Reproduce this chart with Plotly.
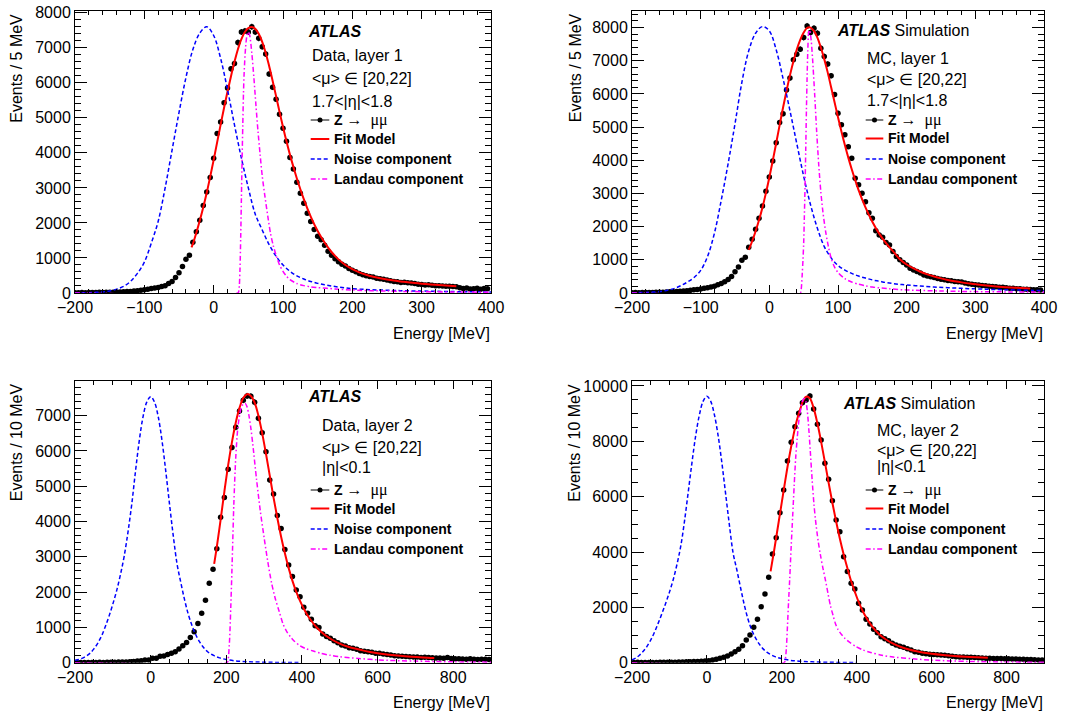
import numpy as np
import plotly.graph_objects as go

W, H = 1067, 718
FONT = "Liberation Sans, Arial, Helvetica, sans-serif"
SERIF = "Liberation Serif, Times New Roman, serif"

# ---------------- binning ----------------
L1_START, L1_WIDTH, L1_N = -200, 5, 120     # layer 1: 5 MeV bins
L2_START, L2_WIDTH, L2_N = -195, 10, 110    # layer 2: 10 MeV bins

# ---------------- Panel 1 : Data, layer 1 ----------------
p1_data = [10, 8, 12, 10, 14, 12, 16, 18, 15, 20,
           22, 20, 25, 28, 34, 40, 46, 58, 66, 80,
           92, 108, 125, 140, 160, 185, 205, 270, 330, 440,
           580, 760, 960, 1080, 1450, 1750, 2080, 2500, 2880, 3300,
           3850, 4550, 4880, 5430, 5850, 6400, 6550, 7150, 7450, 7480,
           7450, 7600, 7450, 7270, 7030, 6820, 6250, 5870, 5530, 5100,
           4700, 4330, 3870, 3540, 3160, 2850, 2560, 2280, 2040, 1810,
           1620, 1520, 1360, 1190, 1080, 980, 890, 820, 770, 700,
           650, 610, 560, 520, 490, 470, 460, 420, 410, 390,
           370, 350, 330, 320, 300, 310, 290, 285, 270, 250,
           240, 230, 235, 220, 210, 205, 200, 195, 190, 185,
           180, 150, 130, 140, 115, 120, 135, 110, 125, 120]
p1_fit_x = [-32, -30, -25, -20, -15, -10, -5, 0, 5, 10, 15, 20, 25, 30, 35, 40, 45, 50, 55, 60,
            65, 70, 75, 80, 85, 90, 95, 100, 105, 110, 115, 120, 130, 140, 150, 160, 170, 180, 190, 200,
            210, 220, 230, 240, 250, 260, 270, 280, 290, 300, 310, 320, 330, 340, 350]
p1_fit_y = [1300, 1400, 1720, 2070, 2450, 2860, 3320, 3800, 4300, 4800, 5290, 5750, 6190, 6600, 6960, 7250, 7450, 7560, 7590, 7540,
            7400, 7170, 6860, 6480, 6060, 5620, 5170, 4740, 4330, 3950, 3600, 3270, 2680, 2180, 1770, 1440, 1170, 960, 800, 680,
            590, 520, 465, 420, 385, 355, 330, 305, 285, 265, 248, 232, 218, 205, 195]
noise_x = [-200, -190, -180, -170, -160, -150, -140, -130, -120, -110,
           -100, -90, -80, -70, -60, -50, -40, -30, -20, -10,
           0, 10, 20, 30, 40, 50, 60, 70, 80, 90,
           100, 110, 120, 130, 140, 150, 160, 170, 180, 190,
           200, 220, 240, 260, 280, 300, 320, 340, 360, 380, 400]
p1_noise_y = [3, 6, 10, 18, 32, 60, 110, 190, 330, 560,
              880, 1420, 2050, 3000, 4080, 5150, 6150, 6950, 7420, 7600,
              7350, 6700, 5800, 4800, 3850, 3000, 2250, 1800, 1380, 1050,
              800, 620, 490, 400, 330, 275, 235, 200, 170, 145,
              125, 100, 85, 72, 62, 55, 48, 42, 37, 33, 30]
p1_landau_x = [-200, 35, 36, 37, 38, 39, 40, 41, 42, 43, 44, 46, 48, 50, 52, 55, 58, 61, 64, 67, 70,
               74, 78, 82, 86, 90, 95, 100, 105, 110, 120, 130, 140, 150, 175, 200, 250, 300, 350, 400]
p1_landau_y = [0, 0, 30, 200, 700, 1600, 2700, 3800, 4800, 5700, 6300, 7000, 7350, 7450, 7350, 6850, 6150, 5350, 4600, 3950, 3350,
               2750, 2200, 1700, 1350, 1080, 800, 620, 480, 380, 270, 210, 175, 155, 115, 85, 55, 38, 28, 22]

# ---------------- Panel 2 : MC, layer 1 ----------------
p2_data = [10, 12, 8, 15, 12, 18, 16, 20, 25, 22,
           30, 35, 40, 45, 55, 62, 70, 80, 95, 105,
           120, 140, 160, 180, 205, 250, 290, 340, 410, 500,
           640, 780, 990, 1080, 1380, 1620, 1920, 2250, 2620, 3070,
           3500, 3980, 4530, 5140, 5400, 6120, 6480, 7030, 7200, 7350,
           7700, 8050, 7850, 7980, 7830, 7380, 7130, 6900, 6550, 5980,
           5420, 5070, 4770, 4410, 4060, 3460, 3260, 3010, 2750, 2420,
           2250, 1880, 1750, 1680, 1520, 1450, 1250, 1100, 1000, 920,
           845, 745, 695, 645, 600, 545, 510, 490, 470, 440,
           415, 400, 380, 370, 350, 340, 330, 300, 280, 260,
           245, 240, 225, 215, 200, 195, 185, 175, 170, 160,
           145, 140, 130, 125, 115, 112, 105, 100, 95, 92]
p2_fit_x = [-30, -25, -20, -15, -10, -5, 0, 5, 10, 15, 20, 25, 30, 35, 40, 45, 50, 55, 60, 65,
            70, 75, 80, 85, 90, 95, 100, 105, 110, 115, 120, 130, 140, 150, 160, 170, 180, 190, 200, 210,
            220, 230, 240, 250, 260, 270, 280, 290, 300, 320, 340, 360, 380]
p2_fit_y = [1300, 1560, 1860, 2200, 2580, 3010, 3480, 3990, 4520, 5060, 5590, 6090, 6560, 6980, 7340, 7630, 7850, 7990, 8000, 7900,
            7700, 7400, 7050, 6650, 6200, 5750, 5300, 4870, 4460, 4080, 3730, 3100, 2580, 2150, 1790, 1500, 1260, 1020, 860, 740,
            640, 560, 495, 440, 395, 355, 320, 290, 262, 218, 182, 155, 132]
p2_noise_y = [8, 12, 18, 28, 42, 75, 125, 210, 320, 460,
              680, 1100, 1800, 2800, 3900, 5100, 6350, 7300, 7830, 8030,
              7900, 7330, 6460, 5500, 4500, 3520, 2660, 1950, 1400, 1060,
              830, 690, 590, 510, 450, 395, 355, 315, 285, 260,
              240, 210, 180, 160, 140, 125, 110, 100, 90, 80, 70]
p2_landau_x = [-200, 45, 46, 47, 48, 49, 50, 51, 52, 53, 54, 55, 56, 57, 58, 59, 61, 63, 66, 69, 72, 75, 78, 82, 86, 90,
               95, 100, 110, 120, 130, 140, 150, 175, 200, 250, 300, 350, 400]
p2_landau_y = [0, 0, 50, 250, 600, 1000, 1500, 2300, 3200, 4300, 5500, 6500, 7300, 7800, 7920, 7900, 7600, 7050, 6000, 4850, 3850, 3050, 2450, 1850, 1400, 1050,
               780, 620, 430, 330, 265, 215, 180, 125, 92, 60, 42, 32, 25]

# ---------------- Panel 3 : Data, layer 2 ----------------
p3_data = [5, 3, 8, 4, 6, 5, 10, 8, 12, 10,
           15, 18, 20, 22, 30, 35, 45, 55, 75, 80,
           125, 125, 185, 190, 235, 265, 310, 385, 480, 575,
           715, 875, 1110, 1400, 1770, 2250, 2650, 3230, 4120, 4680,
           5480, 6100, 6670, 7130, 7440, 7560, 7550, 7380, 6930, 6520,
           5980, 5180, 4780, 4170, 3800, 3210, 2770, 2440, 2060, 1870,
           1570, 1400, 1230, 1050, 1000, 810, 740, 690, 625, 565,
           500, 475, 425, 410, 380, 340, 325, 310, 295, 265,
           270, 250, 235, 220, 195, 190, 180, 175, 170, 165,
           160, 150, 155, 145, 140, 135, 130, 125, 145, 120,
           115, 110, 105, 100, 110, 95, 90, 100, 95, 90]
p3_fit_x = [168, 175, 185, 195, 205, 215, 225, 235, 245, 255, 265, 275, 285, 295, 305, 315, 325, 335, 345, 355,
            365, 375, 385, 395, 405, 420, 440, 460, 480, 500, 520, 540, 560, 580, 600, 630, 660, 690, 720, 750]
p3_fit_y = [2800, 3280, 4050, 4850, 5600, 6250, 6800, 7220, 7500, 7610, 7560, 7370, 7000, 6500, 5920, 5300, 4680, 4100, 3570, 3100,
            2680, 2320, 2010, 1750, 1530, 1260, 990, 790, 650, 540, 460, 400, 350, 305, 270, 228, 195, 170, 150, 135]
p3_noise_y = [68, 90, 128, 189, 271, 392, 550, 754, 1018, 1320,
              1659, 2036, 2488, 3016, 3695, 4486, 5429, 6296, 6975, 7390,
              7540, 7390, 6975, 6296, 5429, 4486, 3582, 2790, 2262, 1772,
              1357, 1033, 777, 581, 430, 317, 241, 189, 143, 113,
              90, 57, 38, 26, 19, 14, 10, 8, 6, 5, 4]
p3_landau_x = [-200, 202, 204, 208, 212, 216, 220, 225, 230, 235, 240, 245, 250, 255, 260, 265, 270,
               280, 290, 300, 310, 320, 330, 340, 350, 360, 370, 380,
               395, 410, 430, 450, 475, 500, 550, 600, 700, 800, 900]
p3_landau_y = [0, 0, 30, 500, 1600, 3000, 4500, 5800, 6600, 7000, 7250, 7330, 7350, 7250, 7000, 6650, 6200,
               5200, 4300, 3550, 2850, 2250, 1800, 1450, 1100, 880, 730, 610,
               480, 400, 330, 265, 210, 170, 120, 80, 45, 25, 15]

# ---------------- Panel 4 : MC, layer 2 ----------------
p4_data = [8, 12, 6, 9, 7, 10, 9, 12, 14, 15,
           18, 20, 22, 25, 30, 35, 40, 45, 52, 61,
           73, 98, 122, 158, 194, 242, 314, 399, 483, 615,
           820, 1000, 1277, 1566, 2024, 2480, 3085, 3928, 4518, 5422,
           6241, 7289, 7963, 8530, 9012, 9398, 9494, 9639, 9168, 8614,
           8048, 7205, 6630, 5855, 5156, 4735, 3831, 3300, 2870, 2663,
           2146, 1905, 1568, 1399, 1207, 1080, 940, 870, 795, 700,
           640, 590, 556, 500, 459, 398, 380, 340, 320, 305,
           295, 285, 278, 265, 250, 235, 217, 210, 205, 200,
           195, 190, 180, 170, 165, 159, 155, 152, 148, 145,
           142, 138, 132, 128, 123, 118, 112, 108, 102, 98]
p4_fit_x = [170, 180, 190, 200, 210, 220, 230, 240, 250, 258, 266, 275, 285, 295, 305, 315, 325, 335, 345, 355,
            365, 375, 385, 395, 405, 420, 440, 460, 480, 500, 520, 540, 560, 580, 600, 630, 660, 690, 720, 750]
p4_fit_y = [3300, 4100, 4950, 5800, 6650, 7450, 8150, 8750, 9200, 9500, 9620, 9550, 9200, 8650, 7980, 7250, 6500, 5780, 5100, 4480,
            3920, 3420, 2950, 2560, 2200, 1760, 1330, 1030, 820, 670, 560, 475, 410, 360, 320, 275, 240, 213, 193, 177]
p4_noise_y = [100, 170, 270, 410, 590, 820, 1100, 1430, 1780, 2150,
              2550, 3000, 3550, 4200, 5100, 6150, 7220, 8200, 8960, 9450,
              9630, 9450, 8960, 8200, 7220, 6100, 4980, 3960, 3350, 2700,
              2080, 1560, 1170, 890, 670, 500, 380, 295, 230, 180,
              140, 90, 60, 42, 30, 22, 16, 12, 9, 7, 6]
p4_landau_x = [-200, 206, 209, 212, 215, 218, 221, 225, 229, 233, 237, 241, 246, 251, 256, 260, 264,
               268, 272, 276, 281, 286, 290, 297, 303, 310, 317,
               324, 330, 337, 343, 350, 357, 367, 377, 397, 417,
               437, 467, 497, 547, 597, 697, 797, 900]
p4_landau_y = [0, 0, 100, 500, 1300, 2200, 3000, 4200, 5300, 6400, 7400, 8100, 8800, 9200, 9480, 9550, 9450,
               9100, 8450, 7650, 6600, 5700, 5150, 4400, 3900, 3400, 2950,
               2450, 2050, 1700, 1420, 1200, 1060, 900, 780, 590, 460,
               370, 270, 205, 145, 95, 45, 25, 15]

# ---------------- text ----------------
labels = {
    1: dict(head="<b><i>ATLAS</i></b>", lines=["Data, layer 1", "&lt;μ&gt; ∈ [20,22]", "1.7&lt;|η|&lt;1.8"], ytitle="Events / 5 MeV"),
    2: dict(head="<b><i>ATLAS</i></b> Simulation", lines=["MC, layer 1", "&lt;μ&gt; ∈ [20,22]", "1.7&lt;|η|&lt;1.8"], ytitle="Events / 5 MeV"),
    3: dict(head="<b><i>ATLAS</i></b>", lines=["Data, layer 2", "&lt;μ&gt; ∈ [20,22]", "|η|&lt;0.1"], ytitle="Events / 10 MeV"),
    4: dict(head="<b><i>ATLAS</i></b> Simulation", lines=["MC, layer 2", "&lt;μ&gt; ∈ [20,22]", "|η|&lt;0.1"], ytitle="Events / 10 MeV"),
}
legend_names = ["<b>Z</b> <span style='font-family:Liberation Serif;font-size:16px'>→  μμ</span>",
                "<b>Fit Model</b>", "<b>Noise component</b>", "<b>Landau component</b>"]
xtitle = "Energy [MeV]"

# ---------------- layout geometry (pixels) ----------------
panels = {
    1: dict(xd=(75, 491), yd=(11, 293), xr=(-200, 400), yr=(0, 8050), xdt=100, xmn=20, ydt=1000, ymn=200,
            head=(306.7, 31), txt=(310.7, [55.5, 78, 101.5]), leg=(310.7, 329.3, 332.7, [120, 139, 159, 179]),
            yt=(16.5, 12.7), xt=(491, 333)),
    2: dict(xd=(632, 1044), yd=(11, 293), xr=(-200, 400), yr=(0, 8500), xdt=100, xmn=20, ydt=1000, ymn=200,
            head=(836, 30), txt=(865.7, [58, 80, 100]), leg=(865.7, 883.3, 887.3, [120, 138.5, 159, 179]),
            yt=(575, 12.7), xt=(1044, 333)),
    3: dict(xd=(75, 491), yd=(381, 662.7), xr=(-200, 900), yr=(0, 7983), xdt=200, xmn=50, ydt=1000, ymn=200,
            head=(307, 396), txt=(320.7, [425.5, 447, 467.7]), leg=(310.7, 329.3, 332.7, [490, 508.5, 529, 549]),
            yt=(16.5, 382.7), xt=(491, 702.7)),
    4: dict(xd=(632, 1044), yd=(381, 662.7), xr=(-200, 900), yr=(0, 10180), xdt=200, xmn=50, ydt=2000, ymn=500,
            head=(841.7, 403.7), txt=(875.7, [430.3, 450, 467]), leg=(865.7, 883.3, 887.3, [490, 508.5, 529, 549]),
            yt=(575, 382.7), xt=(1044, 702.7)),
}

series = {
    1: dict(data=p1_data, start=L1_START, width=L1_WIDTH, n=L1_N, fit=(p1_fit_x, p1_fit_y),
            noise=(noise_x, p1_noise_y), landau=(p1_landau_x, p1_landau_y)),
    2: dict(data=p2_data, start=L1_START, width=L1_WIDTH, n=L1_N, fit=(p2_fit_x, p2_fit_y),
            noise=(noise_x, p2_noise_y), landau=(p2_landau_x, p2_landau_y)),
    3: dict(data=p3_data, start=L2_START, width=L2_WIDTH, n=L2_N, fit=(p3_fit_x, p3_fit_y),
            noise=(noise_x, p3_noise_y), landau=(p3_landau_x, p3_landau_y)),
    4: dict(data=p4_data, start=L2_START, width=L2_WIDTH, n=L2_N, fit=(p4_fit_x, p4_fit_y),
            noise=(noise_x, p4_noise_y), landau=(p4_landau_x, p4_landau_y)),
}

RED, BLUE, MAG = "#ff0000", "#0000ff", "#ff00ff"
BLUE_DASH = "4px,2.5px"
MAG_DASH = "5px,2.5px,1.5px,2.5px"

def fx(p):
    return p / W

def fy(p):
    return 1 - p / H

fig = go.Figure()
layout = dict(width=W, height=H, margin=dict(l=0, r=0, t=0, b=0, pad=0, autoexpand=False),
              paper_bgcolor="white", plot_bgcolor="white", showlegend=False,
              font=dict(family=FONT, size=16, color="black"))
annotations = []
shapes = []

for i in range(1, 5):
    p = panels[i]
    s = series[i]
    sx = "" if i == 1 else str(i)
    xa, ya = "x" + sx, "y" + sx
    layout["xaxis" + sx] = dict(
        domain=[fx(p["xd"][0]), fx(p["xd"][1])], range=list(p["xr"]), anchor=ya, automargin=False,
        tick0=0, dtick=p["xdt"], ticks="inside", ticklen=8, tickwidth=1, tickcolor="black", tickformat="d",
        showline=True, linecolor="black", linewidth=1, mirror="ticks", showgrid=False, zeroline=False,
        tickfont=dict(family=FONT, size=16, color="black"),
        minor=dict(tick0=0, dtick=p["xmn"], ticks="inside", ticklen=4, tickwidth=1, tickcolor="black", showgrid=False))
    layout["yaxis" + sx] = dict(
        domain=[fy(p["yd"][1]), fy(p["yd"][0])], range=list(p["yr"]), anchor=xa, automargin=False,
        tick0=0, dtick=p["ydt"], ticks="inside", ticklen=12, tickwidth=1, tickcolor="black", tickformat="d",
        showline=True, linecolor="black", linewidth=1, mirror="ticks", showgrid=False, zeroline=False,
        tickfont=dict(family=FONT, size=16, color="black"),
        minor=dict(tick0=0, dtick=p["ymn"], ticks="inside", ticklen=6, tickwidth=1, tickcolor="black", showgrid=False))

    centers = s["start"] + s["width"] * np.arange(s["n"])
    vals = np.array(s["data"], dtype=float)
    fig.add_trace(go.Scatter(
        x=centers, y=vals, mode="markers", xaxis=xa, yaxis=ya,
        marker=dict(color="black", size=5.5, symbol="circle"),
        error_y=dict(type="data", array=np.sqrt(vals), color="black", thickness=1, width=0)))
    fig.add_trace(go.Scatter(x=s["fit"][0], y=s["fit"][1], mode="lines", xaxis=xa, yaxis=ya,
                             line=dict(color=RED, width=2, shape="spline", smoothing=1)))
    fig.add_trace(go.Scatter(x=s["noise"][0], y=s["noise"][1], mode="lines", xaxis=xa, yaxis=ya,
                             line=dict(color=BLUE, width=1.5, dash=BLUE_DASH, shape="spline", smoothing=1)))
    fig.add_trace(go.Scatter(x=s["landau"][0], y=s["landau"][1], mode="lines", xaxis=xa, yaxis=ya,
                             line=dict(color=MAG, width=1.5, dash=MAG_DASH, shape="spline", smoothing=0.8)))

    lab = labels[i]
    annotations.append(dict(text=lab["head"], x=fx(p["head"][0]), y=fy(p["head"][1]), xref="paper", yref="paper",
                            xanchor="left", yanchor="middle", showarrow=False, borderpad=0,
                            font=dict(family=FONT, size=16, color="black")))
    for t, cy in zip(lab["lines"], p["txt"][1]):
        annotations.append(dict(text=t, x=fx(p["txt"][0]), y=fy(cy), xref="paper", yref="paper",
                                xanchor="left", yanchor="middle", showarrow=False, borderpad=0,
                                font=dict(family=FONT, size=16, color="black")))
    kx0, kx1, tx, rows = p["leg"]
    for name, cy in zip(legend_names, rows):
        annotations.append(dict(text=name, x=fx(tx), y=fy(cy), xref="paper", yref="paper",
                                xanchor="left", yanchor="middle", showarrow=False, borderpad=0,
                                font=dict(family=FONT, size=14, color="black")))
    key_styles = [dict(color="black", width=1), dict(color=RED, width=2),
                  dict(color=BLUE, width=1.5, dash=BLUE_DASH), dict(color=MAG, width=1.5, dash=MAG_DASH)]
    for st, cy in zip(key_styles, rows):
        shapes.append(dict(type="line", xref="paper", yref="paper", x0=fx(kx0), x1=fx(kx1), y0=fy(cy), y1=fy(cy),
                           line=st))
    cxm = (kx0 + kx1) / 2
    shapes.append(dict(type="circle", xref="paper", yref="paper", x0=fx(cxm - 2.5), x1=fx(cxm + 2.5),
                       y0=fy(rows[0] + 2.5), y1=fy(rows[0] - 2.5), fillcolor="black", line=dict(color="black", width=0)))

    annotations.append(dict(text=lab["ytitle"], x=fx(p["yt"][0]), y=fy(p["yt"][1]), xref="paper", yref="paper",
                            xanchor="center", yanchor="top", textangle=-90, showarrow=False, borderpad=0,
                            font=dict(family=FONT, size=16, color="black")))
    annotations.append(dict(text=xtitle, x=fx(p["xt"][0]), y=fy(p["xt"][1]), xref="paper", yref="paper",
                            xanchor="right", yanchor="middle", showarrow=False, borderpad=0,
                            font=dict(family=FONT, size=16, color="black")))

layout["annotations"] = annotations
layout["shapes"] = shapes
fig.update_layout(**layout)

fig.write_html("out.html", config={"displayModeBar": False},
               post_script="document.body.style.margin='0px';")
